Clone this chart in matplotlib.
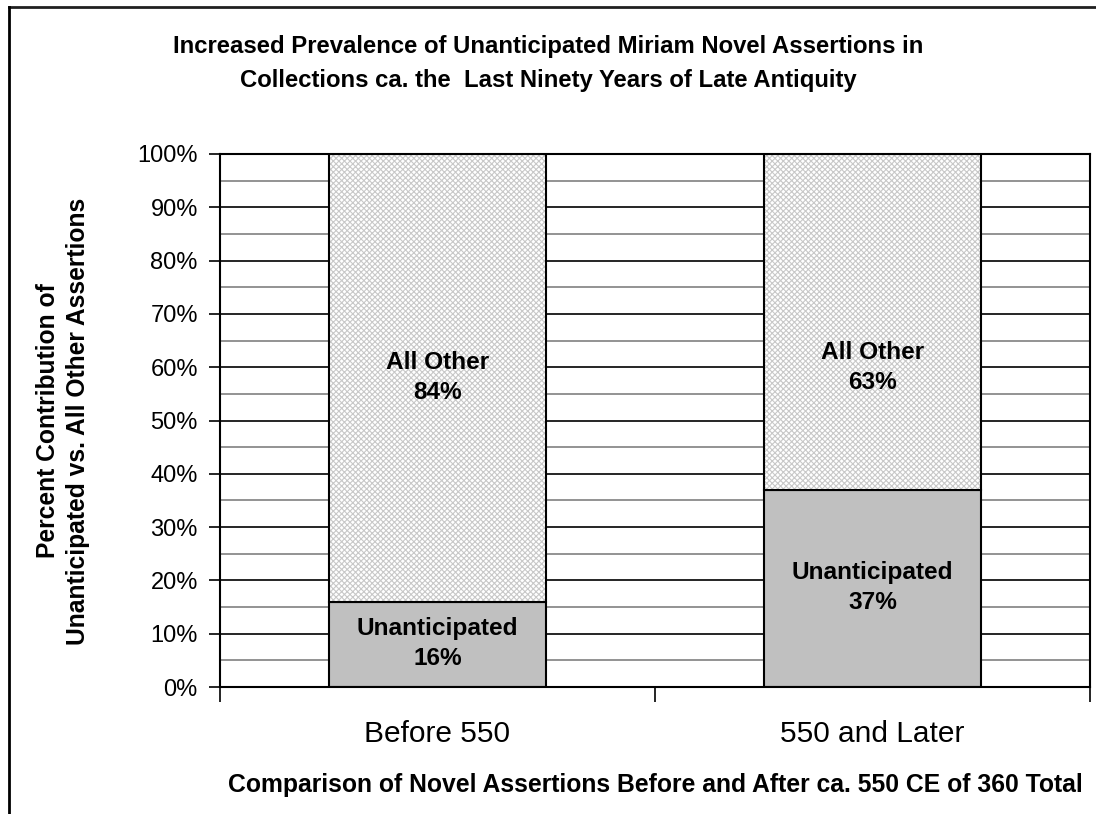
import matplotlib
matplotlib.use("Agg")
import matplotlib.pyplot as plt
from matplotlib.lines import Line2D
import numpy as np

plt.rcParams['font.family'] = ['Liberation Sans', 'DejaVu Sans']
plt.rcParams['hatch.linewidth'] = 0.8

categories = ["Before 550", "550 and Later"]
unanticipated = [16, 37]
all_other = [84, 63]
series_names = ["Unanticipated", "All Other"]
yticks = [0, 10, 20, 30, 40, 50, 60, 70, 80, 90, 100]
ytick_labels = [f"{v}%" for v in yticks]

title_lines = ["Increased Prevalence of Unanticipated Miriam Novel Assertions in",
               "Collections ca. the  Last Ninety Years of Late Antiquity"]
ylabel = "Percent Contribution of\nUnanticipated vs. All Other Assertions"
xlabel = "Comparison of Novel Assertions Before and After ca. 550 CE of 360 Total"

# label vertical positions (layout)
other_label_y = [58, 60]

fig = plt.figure(figsize=(10.96, 8.14), dpi=100)
ax = fig.add_axes([220/1096, 1-687/814, (1090-220)/1096, (687-154)/814])

x = np.arange(len(categories))
w = 0.5

# gridlines
for v in range(5, 100, 10):
    ax.axhline(v, color='#808080', lw=1.2, zorder=0)
for v in range(10, 100, 10):
    ax.axhline(v, color='#000000', lw=1.2, zorder=0)

ax.bar(x, unanticipated, width=w, color='#c0c0c0', edgecolor='black', lw=1.5, zorder=2)
ax.bar(x, all_other, width=w, bottom=unanticipated, color='white',
       edgecolor='#c8c8c8', hatch='xxxxxx', lw=0, zorder=2)
ax.bar(x, all_other, width=w, bottom=unanticipated, fill=False,
       edgecolor='black', lw=1.5, zorder=3)

for i in range(len(categories)):
    ax.text(x[i], unanticipated[i] / 2 + 0.2, f"{series_names[0]}\n{unanticipated[i]}%",
            ha='center', va='center', fontsize=17.6, fontweight='bold', zorder=4,
            linespacing=1.4)
    ax.text(x[i], other_label_y[i], f"{series_names[1]}\n{all_other[i]}%",
            ha='center', va='center', fontsize=17.6, fontweight='bold', zorder=4,
            linespacing=1.4)

ax.set_xlim(-0.5, 1.5)
ax.set_ylim(0, 100)
ax.set_yticks(yticks)
ax.set_yticklabels(ytick_labels, fontsize=17)
ax.tick_params(axis='y', length=8, width=1.2, direction='out', pad=8)
ax.set_xticks(x)
ax.set_xticklabels(categories, fontsize=21.5)
ax.tick_params(axis='x', which='major', length=0, pad=24)
ax.set_xticks([-0.5, 0.5, 1.5], minor=True)
ax.tick_params(axis='x', which='minor', length=11, width=1.2, direction='out')

for s in ax.spines.values():
    s.set_linewidth(1.5)
    s.set_color('black')

ax.set_xlabel(xlabel, fontsize=17.8, fontweight='bold', labelpad=18)

fig.text(0.5, 1 - 47/814, title_lines[0], ha='center', va='center', fontsize=17.2,
         fontweight='bold')
fig.text(0.5, 1 - 80/814, title_lines[1], ha='center', va='center', fontsize=17.2,
         fontweight='bold')
fig.text(63/1096, 1 - 421/814, ylabel, ha='center', va='center', rotation=90,
         fontsize=17.7, fontweight='bold', linespacing=1.3)

# outer chart border (top and left only)
fig.add_artist(Line2D([9/1096, 1], [1-7/814, 1-7/814], color='#202020', lw=2,
                      transform=fig.transFigure))
fig.add_artist(Line2D([9/1096, 9/1096], [1-7/814, 0], color='#000000', lw=2,
                      transform=fig.transFigure))

fig.savefig("out.png", dpi=100)
